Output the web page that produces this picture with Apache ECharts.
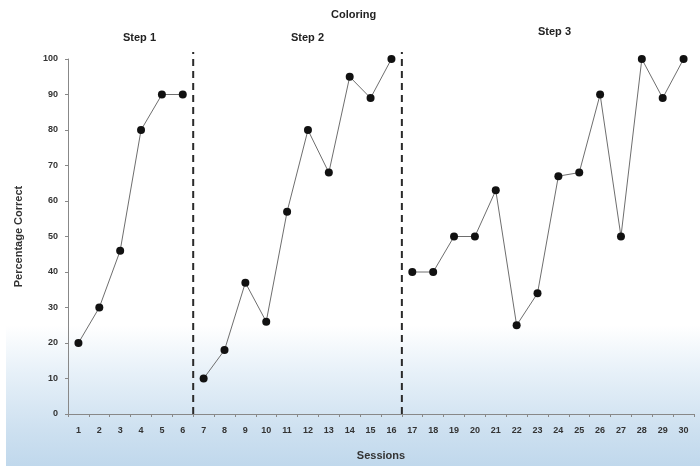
<!DOCTYPE html>
<html>
<head>
<meta charset="utf-8">
<script src="https://cdn.jsdelivr.net/npm/echarts@6/dist/echarts.min.js"></script>
<style>
  html, body { margin: 0; padding: 0; background: #fff; }
  #chart { width: 700px; height: 466px; }
</style>
</head>
<body>
<div id="chart"></div>
<script>
  const sessions = Array.from({ length: 30 }, (_, i) => String(i + 1));
  const step1 = [20, 30, 46, 80, 90, 90];
  const step2 = [10, 18, 37, 26, 57, 80, 68, 95, 89, 100];
  const step3 = [40, 40, 50, 50, 63, 25, 34, 67, 68, 90, 50, 100, 89, 100];
  const phaseLabels = ['Step 1', 'Step 2', 'Step 3'];
  const phaseBreaks = [6.5, 16.5];

  // pad each phase so lines break at the phase changes
  function pad(values, start) {
    return sessions.map((_, i) => (i >= start && i < start + values.length ? values[i - start] : '-'));
  }

  const lineColor = '#6e6e6e';
  const labelStyle = { color: '#333', fontSize: 9, fontWeight: 'bold', fontFamily: 'Liberation Sans' };
  const nameStyle = { color: '#333', fontSize: 11, fontWeight: 'bold', fontFamily: 'Liberation Sans' };

  function phaseSeries(values, start) {
    return {
      type: 'line',
      data: pad(values, start),
      symbol: 'circle',
      symbolSize: 8,
      itemStyle: { color: '#111' },
      lineStyle: { color: lineColor, width: 1 },
      connectNulls: false,
      z: 3
    };
  }

  // vertical phase-change lines, drawn on hidden value axes
  const breakData = [];
  phaseBreaks.forEach(x => { breakData.push([x, 0], [x, 102], [x, '-']); });

  const chart = echarts.init(document.getElementById('chart'));
  chart.setOption({
    animation: false,
    backgroundColor: '#fff',
    graphic: [
      {
        type: 'rect', z: -10, silent: true,
        shape: { x: 6, y: 325, width: 694, height: 141 },
        style: {
          fill: new echarts.graphic.LinearGradient(0, 0, 0, 1, [
            { offset: 0, color: '#ffffff' },
            { offset: 0.35, color: '#e6f0f8' },
            { offset: 0.75, color: '#cde0f0' },
            { offset: 1, color: '#c0d8ec' }
          ])
        }
      },
      { type: 'text', left: 331, top: 9, style: { text: 'Coloring', font: 'bold 11px Liberation Sans', fill: '#222' } },
      { type: 'text', left: 123, top: 32, style: { text: phaseLabels[0], font: 'bold 11px Liberation Sans', fill: '#222' } },
      { type: 'text', left: 291, top: 32, style: { text: phaseLabels[1], font: 'bold 11px Liberation Sans', fill: '#222' } },
      { type: 'text', left: 538, top: 26, style: { text: phaseLabels[2], font: 'bold 11px Liberation Sans', fill: '#222' } }
    ],
    grid: { left: 68, right: 6, top: 59, bottom: 52 },
    xAxis: [
      {
        type: 'category',
        data: sessions,
        boundaryGap: true,
        name: 'Sessions',
        nameLocation: 'middle',
        nameGap: 36,
        nameTextStyle: nameStyle,
        axisLine: { lineStyle: { color: '#888' } },
        axisTick: { show: true, length: 3, lineStyle: { color: '#888' } },
        axisLabel: Object.assign({ margin: 12, interval: 0 }, labelStyle)
      },
      { type: 'value', min: 0.5, max: 30.5, show: false }
    ],
    yAxis: [
      {
        type: 'value',
        min: 0,
        max: 100,
        interval: 10,
        name: 'Percentage Correct',
        nameLocation: 'middle',
        nameGap: 44,
        nameTextStyle: nameStyle,
        axisLine: { show: true, lineStyle: { color: '#888' } },
        axisTick: { show: true, length: 3, lineStyle: { color: '#888' } },
        axisLabel: Object.assign({ margin: 10 }, labelStyle),
        splitLine: { show: false }
      },
      { type: 'value', min: 0, max: 100, show: false }
    ],
    series: [
      phaseSeries(step1, 0),
      phaseSeries(step2, step1.length),
      phaseSeries(step3, step1.length + step2.length),
      {
        type: 'line',
        xAxisIndex: 1,
        yAxisIndex: 1,
        data: breakData,
        symbol: 'none',
        silent: true,
        clip: false,
        connectNulls: false,
        lineStyle: { color: '#2a2a2a', type: [7, 5], width: 2 },
        z: 2
      }
    ]
  });
</script>
</body>
</html>
